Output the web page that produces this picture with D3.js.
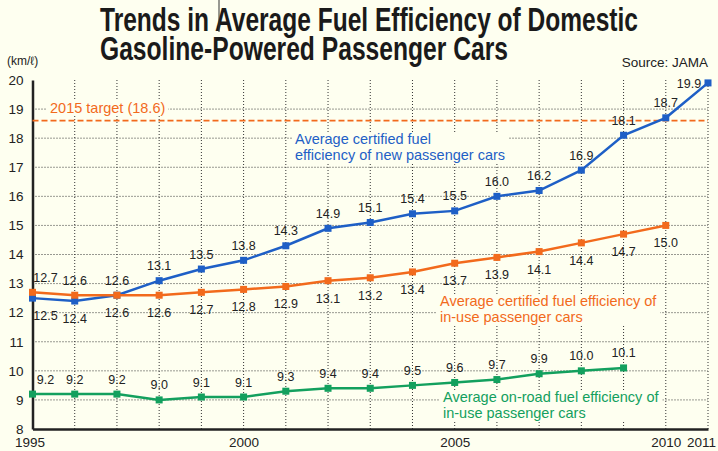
<!DOCTYPE html>
<html><head><meta charset="utf-8">
<script src="https://cdn.jsdelivr.net/npm/d3@7"></script>
<style>
html,body{margin:0;padding:0;background:#FEFFF0;}
svg{display:block;}
text{font-family:"Liberation Sans",Arial,Helvetica,sans-serif;}
</style></head>
<body>
<svg id="chart" width="718" height="451"></svg>
<script>
const years = d3.range(1995, 2012);
const newCars = [12.5,12.4,12.6,13.1,13.5,13.8,14.3,14.9,15.1,15.4,15.5,16.0,16.2,16.9,18.1,18.7,19.9];
const inUseCertified = [12.7,12.6,12.6,12.6,12.7,12.8,12.9,13.1,13.2,13.4,13.7,13.9,14.1,14.4,14.7,15.0];
const inUseOnRoad = [9.2,9.2,9.2,9.0,9.1,9.1,9.3,9.4,9.4,9.5,9.6,9.7,9.9,10.0,10.1];
const yTicks = [8,9,10,11,12,13,14,15,16,17,18,19,20];
const xTickLabels = [1995,2000,2005,2010,2011];
const target = 18.6;

const svg = d3.select("#chart");
const x = d3.scaleLinear().domain([1995, 2011]).range([32.5, 708]);
const y = d3.scaleLinear().domain([8, 20]).range([429, 80]);

const C_BLUE = "#1E5FC6", C_ORANGE = "#F26A1C", C_GREEN = "#13A05E", BG = "#FEFFF0";

// Title
svg.append("text").attr("x",100).attr("y",31).attr("font-size",33.5).attr("font-weight","bold")
  .attr("textLength",538).attr("lengthAdjust","spacingAndGlyphs").attr("fill","#1a1a1a")
  .text("Trends in Average Fuel Efficiency of Domestic");
svg.append("text").attr("x",100).attr("y",60).attr("font-size",33.5).attr("font-weight","bold")
  .attr("textLength",408).attr("lengthAdjust","spacingAndGlyphs").attr("fill","#1a1a1a")
  .text("Gasoline-Powered Passenger Cars");
svg.append("line").attr("x1",219).attr("x2",219).attr("y1",0).attr("y2",32).attr("stroke","#333").attr("stroke-width",1);

svg.append("text").attr("x",708).attr("y",67).attr("text-anchor","end").attr("font-size",13.5).attr("fill","#222").text("Source: JAMA");
svg.append("text").attr("x",7).attr("y",65).attr("font-size",12).attr("fill","#222").text("(km/ℓ)");

// Grid
const g = svg.append("g");
g.selectAll(".hg").data(yTicks.filter(v => v > 8 && v < 20)).join("line")
  .attr("x1", x(1995)).attr("x2", x(2011)).attr("y1", d => y(d)).attr("y2", d => y(d))
  .attr("stroke","#333").attr("stroke-width",1).attr("stroke-dasharray","1,2");
g.selectAll(".vg").data(years.filter(v => v > 1995)).join("line")
  .attr("x1", d => x(d)).attr("x2", d => x(d)).attr("y1", y(20)).attr("y2", y(8))
  .attr("stroke","#333").attr("stroke-width",1).attr("stroke-dasharray","1,2");

// Axes (d3 axes, styled)
const yAxis = svg.append("g").attr("transform",`translate(${x(1995)},0)`)
  .call(d3.axisLeft(y).tickValues(yTicks).tickSize(0).tickPadding(9).tickFormat(d3.format("d")));
yAxis.select(".domain").attr("stroke","#222").attr("stroke-width",2.5);
yAxis.selectAll("text").attr("font-size",13.5).attr("fill","#222").style("font-family","'Liberation Sans',Arial,sans-serif");

const xAxis = svg.append("g").attr("transform",`translate(0,${y(8)})`)
  .call(d3.axisBottom(x).tickValues(xTickLabels).tickSize(0).tickPadding(8).tickFormat(d3.format("d")));
xAxis.select(".domain").attr("stroke","#222").attr("stroke-width",2.5);
xAxis.selectAll("text").attr("font-size",13.5).attr("fill","#222").style("font-family","'Liberation Sans',Arial,sans-serif")
  .attr("dx", d => d === 1995 ? -3 : (d === 2011 ? -7 : 0));

// Target line
svg.append("line").attr("x1",x(1995)).attr("x2",x(2011)).attr("y1",y(target)).attr("y2",y(target))
  .attr("stroke",C_ORANGE).attr("stroke-width",1.8).attr("stroke-dasharray","6,3");

function annot(lines, x0, y0, color, lh){
  const grp = svg.append("g");
  const t = grp.append("text").attr("font-size",14.5).attr("fill",color);
  lines.forEach((s,i)=> t.append("tspan").attr("x",x0).attr("y",y0 + i*lh).text(s));
  const bb = t.node().getBBox();
  grp.insert("rect","text").attr("x",bb.x-3).attr("y",bb.y+1).attr("width",bb.width+6).attr("height",bb.height-2).attr("fill",BG);
}
annot(["2015 target (18.6)"], 50, 113, C_ORANGE, 16);
annot(["Average certified fuel","efficiency of new passenger cars"], 295, 144, C_BLUE, 16);
annot(["Average certified fuel efficiency of","in-use passenger cars"], 440, 306, C_ORANGE, 16);
annot(["Average on-road fuel efficiency of","in-use passenger cars"], 443, 402, C_GREEN, 16);

// Series
const series = [
  {vals: newCars, color: C_BLUE, pos: (i) => i <= 2 ? "below" : "above"},
  {vals: inUseCertified, color: C_ORANGE, pos: (i) => i <= 2 ? "above" : "below"},
  {vals: inUseOnRoad, color: C_GREEN, pos: () => "above"}
];
const line = d3.line().x(d => x(d.year)).y(d => y(d.v));
series.forEach(s => {
  const data = s.vals.map((v,i) => ({year: 1995 + i, v, i}));
  svg.append("path").datum(data).attr("d", line).attr("fill","none").attr("stroke", s.color).attr("stroke-width",2.5);
  svg.selectAll(null).data(data).join("rect")
    .attr("x", d => x(d.year) - 3.5).attr("y", d => y(d.v) - 3.5).attr("width",7).attr("height",7).attr("fill", s.color);
  svg.selectAll(null).data(data).join("text")
    .attr("x", d => x(d.year) + (d.year === 1995 ? 13 : (d.year === 2011 ? -19 : 0)))
    .attr("y", d => y(d.v) + (d.year === 2011 ? 5 : (s.pos(d.i) === "above" ? -10.5 : 22)))
    .attr("text-anchor","middle").attr("font-size",12.5).attr("fill","#222")
    .text(d => d.v.toFixed(1));
});
</script>
</body></html>
